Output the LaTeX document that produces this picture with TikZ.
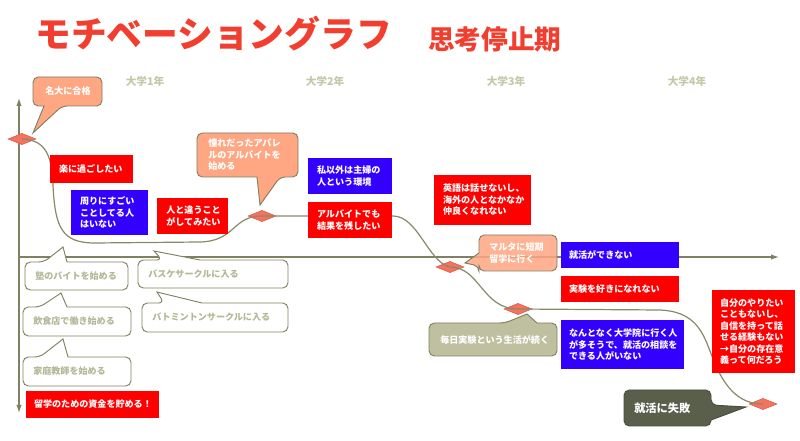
\documentclass[tikz,border=0pt]{standalone}
\usepackage{fontspec}
\setmainfont{Noto Sans CJK JP}
\usetikzlibrary{shapes.geometric,arrows.meta,fit}
\definecolor{ttl}{RGB}{242,62,46}
\definecolor{yr}{RGB}{196,200,168}
\definecolor{olv}{RGB}{128,128,98}
\definecolor{crv}{RGB}{138,136,106}
\definecolor{rbx}{RGB}{255,0,0}
\definecolor{bbx}{RGB}{51,0,255}
\definecolor{salm}{RGB}{255,166,130}
\definecolor{dia}{RGB}{244,115,94}
\definecolor{diab}{RGB}{215,88,72}
\definecolor{olvl}{RGB}{191,192,160}
\definecolor{olvd}{RGB}{90,95,75}
\definecolor{gtx}{RGB}{180,184,150}
\begin{document}
\begin{tikzpicture}[x=0.75pt,y=-0.75pt,
  rbox/.style={fill=rbx, inner sep=0pt},
  bbox/.style={fill=bbx, inner sep=0pt},
  wt/.style={text=white, font=\bfseries\fontsize{6.8pt}{8.6pt}\selectfont, align=left, inner sep=0pt, anchor=west},
  gt/.style={text=gtx, font=\bfseries\fontsize{6.8pt}{8.6pt}\selectfont, align=left, inner sep=0pt, anchor=west},
  yrl/.style={text=yr, font=\bfseries\fontsize{8pt}{9pt}\selectfont, inner sep=0pt},
  cl/.style={draw=olv, line width=0.7pt},
  dm/.style={diamond, fill=dia, draw=diab, line width=0.4pt, minimum width=21pt, minimum height=8.5pt, inner sep=0pt},
  mcurve/.style={draw=crv, line width=0.9pt},
  ax/.style={draw=olv, line width=0.8pt}]
\useasboundingbox (0,0) rectangle (800,441);
\fill[white] (0,0) rectangle (800,441);

% titles
\node[anchor=west, inner sep=0pt, text=ttl, font=\bfseries\fontsize{26.8pt}{27pt}\selectfont] (title) at (35,34) {モチベーショングラフ};
\node[anchor=west, inner sep=0pt, text=ttl, font=\bfseries\fontsize{20pt}{20pt}\selectfont] (sub) at (428,39) {思考停止期};

% year labels
\node[yrl] (y1) at (145,81) {大学1年};
\node[yrl] (y2) at (325,81) {大学2年};
\node[yrl] (y3) at (506,81) {大学3年};
\node[yrl] (y4) at (687,81) {大学4年};

% axes
\coordinate (vtop) at (19,98);
\coordinate (vbot) at (19,413);
\coordinate (horg) at (19,257);
\coordinate (hend) at (779,257);
\draw[ax, {Latex[length=6pt,width=4pt]}-{Latex[length=6pt,width=4pt]}] (vtop) -- (vbot);
\draw[ax, -{Latex[length=6pt,width=4pt]}] (horg) -- (hend);

% diamonds
\node[dm] (d1) at (22,139) {};
\node[dm] (d2) at (262,216) {};
\node[dm] (d3) at (450,267) {};
\node[dm] (d4) at (518,309) {};
\node[dm] (d5) at (763,404) {};

% motivation curve
\draw[mcurve] (d1.center) .. controls (42,140) and (52,150) .. (53,185)
  .. controls (55,228) and (62,243) .. (95,243)
  -- (200,242)
  .. controls (236,241) and (232,216) .. (d2.center)
  -- (393,216)
  .. controls (418,216) and (428,262) .. (d3.center)
  .. controls (480,267) and (482,309) .. (d4.center)
  -- (660,310)
  .. controls (705,312) and (705,345) .. (718,370)
  .. controls (730,395) and (745,404) .. (d5.center);

% red / blue boxes
\node[rbox, fit={(50,155) (133,183)}] (b1) {};
\node[wt] (t1) at ([xshift=6.75pt]b1.west) {楽に過ごしたい};
\node[bbox, fit={(71,190) (148,235)}] (b2) {};
\node[wt] (t2) at ([xshift=6.75pt]b2.west) {周りにすごい\\ことしてる人\\はいない};
\node[rbox, fit={(157,198) (228,234)}] (b3) {};
\node[wt] (t3) at ([xshift=7pt]b3.west) {人と違うこと\\がしてみたい};
\node[bbox, fit={(308,158) (392,194)}] (b4) {};
\node[wt] (t4) at ([xshift=6.75pt]b4.west) {私以外は主婦の\\人という環境};
\node[rbox, fit={(308,202) (392,238)}] (b5) {};
\node[wt] (t5) at ([xshift=6.75pt]b5.west) {アルバイトでも\\結果を残したい};
\node[rbox, fit={(434,175) (531,225)}] (b6) {};
\node[wt] (t6) at ([xshift=6.75pt]b6.west) {英語は話せないし、\\海外の人となかなか\\仲良くなれない};
\node[bbox, fit={(561,242) (679,268)}] (b7) {};
\node[wt] (t7) at ([xshift=6pt]b7.west) {就活ができない};
\node[rbox, fit={(561,276) (679,302)}] (b8) {};
\node[wt] (t8) at ([xshift=6pt]b8.west) {実験を好きになれない};
\node[bbox, fit={(561,320) (684,369)}] (b9) {};
\node[wt] (t9) at ([xshift=6pt]b9.west) {なんとなく大学院に行く人\\が多そうで、就活の相談を\\できる人がいない};
\node[rbox, fit={(712,290) (795,373)}] (b10) {};
\node[wt] (t10) at ([xshift=6pt]b10.west) {自分のやりたい\\こともないし、\\自信を持って話\\せる経験もない\\→自分の存在意\\義って何だろう};
\node[rbox, fit={(26,391) (159,418)}] (b11) {};
\node[wt] (t11) at ([xshift=6pt]b11.west) {留学のための資金を貯める！};

% salmon / olive callouts
\draw[cl, fill=salm] (33,91) [rounded corners=4pt] |- (102,77) |- (62,106) [sharp corners] -- (33,133) -- (44,106) [rounded corners=4pt] -- (33,106) -- cycle;
\node[wt] (c1) at (45,91.5) {名大に合格};

\draw[cl, fill=salm] (197,155) [rounded corners=4pt] |- (298,133) |- (280,177) [sharp corners] -- (260,205) -- (257,177) [rounded corners=4pt] -- (197,177) -- cycle;
\node[wt] (c2) at (208,155) {憧れだったアパレ\\ルのアルバイトを\\始める};

\draw[cl, fill=salm, fill opacity=0.85] (518,235) [rounded corners=4pt] -| (557,271) -| (479,266) [sharp corners] -- (465,263) -- (479,253) [rounded corners=4pt] -- (479,235) -- cycle;
\node[wt] (c3) at (489,253) {マルタに短期\\留学に行く};

\draw[cl, fill=olvl] (429,340) [rounded corners=4pt] |- (505,323) [sharp corners] -- (527,314) -- (537,323) [rounded corners=4pt] -- (557,323) -- (557,356) -- (429,356) -- cycle;
\node[wt] (c4) at (440,339.5) {毎日実験という生活が続く};

\draw[cl, draw=olvd!80!black, fill=olvd] (667,390) [rounded corners=4pt] -| (711,405) [sharp corners] -- (746,407) -- (711,420) [rounded corners=4pt] |- (624,426) -- (624,390) -- cycle;
\node[wt, font=\bfseries\fontsize{8.4pt}{10pt}\selectfont] (c5) at (634,408) {就活に失敗};

% gray outline callouts
\draw[cl, fill=white] (25,276) [rounded corners=4pt] |- (44,262) [sharp corners] -- (63,247) -- (67,262) [rounded corners=4pt] -- (128,262) -- (128,290) -- (25,290) -- cycle;
\node[gt] (g1) at (35,276) {塾のバイトを始める};

\draw[cl, fill=white] (138,274) [rounded corners=4pt] |- (162,260) [sharp corners] -- (154,251) -- (200,260) [rounded corners=4pt] -- (288,260) -- (288,288) -- (138,288) -- cycle;
\node[gt] (g2) at (148,274) {バスケサークルに入る};

\draw[cl, fill=white] (23,321) [rounded corners=4pt] |- (40,307) [sharp corners] -- (61,293) -- (67,307) [rounded corners=4pt] -- (131,307) -- (131,336) -- (23,336) -- cycle;
\node[gt] (g3) at (33,321.5) {飲食店で働き始める};

\draw[cl, fill=white] (142,317) [rounded corners=4pt] |- (164,303) [sharp corners] -- (157,292) -- (202,303) [rounded corners=4pt] -- (288,303) -- (288,332) -- (142,332) -- cycle;
\node[gt] (g4) at (152,317.5) {バトミントンサークルに入る};

\draw[cl, fill=white] (23,371) [rounded corners=4pt] |- (40,357) [sharp corners] -- (63,339) -- (68,357) [rounded corners=4pt] -- (131,357) -- (131,386) -- (23,386) -- cycle;
\node[gt] (g5) at (33,371.5) {家庭教師を始める};
\end{tikzpicture}
\end{document}
